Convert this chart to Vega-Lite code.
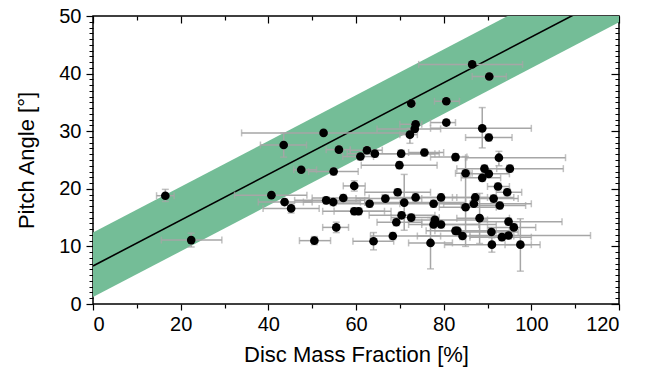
{
  "$schema": "https://vega.github.io/schema/vega-lite/v6.json",
  "width": 526,
  "height": 288,
  "autosize": "none",
  "padding": {"left": 93, "top": 16, "right": 40, "bottom": 66},
  "background": "white",
  "config": {
    "view": {"stroke": "black", "strokeWidth": 1.5},
    "axis": {"domain": false, "grid": false, "tickColor": "black", "tickWidth": 1.2, "labelFont": "Liberation Sans", "titleFont": "Liberation Sans", "labelColor": "black", "titleColor": "black", "titleFontWeight": "normal"}
  },
  "datasets": {
    "fit": [
      {"x": 0, "yfit": 6.6, "lo": 1.2, "hi": 12.4},
      {"x": 120, "yfit": 54.3, "lo": 48.9, "hi": 60.1}
    ],
    "pts": [
      {"x":16.5,"y":18.8,"xl":14.5,"xh":18.5,"yl":17.8,"yh":19.9},
      {"x":22.4,"y":11.1,"xl":15.6,"xh":29.4,"yl":9.9,"yh":12.3},
      {"x":40.7,"y":18.9,"xl":32.3,"xh":48.8,"yl":18.4,"yh":19.4},
      {"x":43.5,"y":27.6,"xl":38.2,"xh":48.7,"yl":25.5,"yh":29.7},
      {"x":43.7,"y":17.7,"xl":37.7,"xh":50.0,"yl":17.2,"yh":18.2},
      {"x":45.2,"y":16.6,"xl":38.8,"xh":51.6,"yl":15.8,"yh":17.4},
      {"x":47.5,"y":23.3,"xl":45.8,"xh":51.0,"yl":22.8,"yh":23.8},
      {"x":52.6,"y":29.7,"xl":33.9,"xh":72.3,"yl":29.2,"yh":30.2},
      {"x":50.5,"y":11.0,"xl":47.1,"xh":54.2,"yl":10.3,"yh":11.7},
      {"x":53.2,"y":18.0,"xl":46.0,"xh":62.0,"yl":17.4,"yh":18.6},
      {"x":54.8,"y":17.7,"xl":48.0,"xh":61.0,"yl":17.1,"yh":18.3},
      {"x":54.9,"y":23.0,"xl":49.2,"xh":60.5,"yl":22.4,"yh":23.6},
      {"x":55.5,"y":13.3,"xl":52.4,"xh":58.3,"yl":12.4,"yh":14.2},
      {"x":56.1,"y":26.8,"xl":53.2,"xh":58.7,"yl":26.2,"yh":27.4},
      {"x":57.1,"y":18.4,"xl":50.0,"xh":63.0,"yl":17.8,"yh":19.0},
      {"x":59.6,"y":20.5,"xl":57.1,"xh":62.1,"yl":19.6,"yh":21.4},
      {"x":59.6,"y":16.1,"xl":52.4,"xh":66.5,"yl":15.5,"yh":16.7},
      {"x":60.6,"y":16.1,"xl":55.0,"xh":68.0,"yl":15.5,"yh":16.7},
      {"x":61.0,"y":25.6,"xl":57.0,"xh":64.0,"yl":25.0,"yh":26.2},
      {"x":62.5,"y":26.7,"xl":58.7,"xh":66.0,"yl":26.1,"yh":27.3},
      {"x":64.3,"y":26.1,"xl":58.0,"xh":79.0,"yl":25.5,"yh":26.7},
      {"x":63.1,"y":17.4,"xl":55.0,"xh":71.0,"yl":16.8,"yh":18.0},
      {"x":64.0,"y":10.9,"xl":59.3,"xh":68.6,"yl":9.4,"yh":12.4},
      {"x":66.7,"y":18.3,"xl":60.0,"xh":75.0,"yl":17.7,"yh":18.9},
      {"x":68.4,"y":11.8,"xl":63.3,"xh":79.3,"yl":11.2,"yh":12.4},
      {"x":69.2,"y":14.2,"xl":64.8,"xh":75.0,"yl":13.6,"yh":14.8},
      {"x":69.5,"y":19.4,"xl":62.0,"xh":77.0,"yl":18.8,"yh":20.0},
      {"x":69.9,"y":24.1,"xl":61.2,"xh":78.5,"yl":23.5,"yh":24.7},
      {"x":70.3,"y":26.1,"xl":62.0,"xh":78.0,"yl":25.5,"yh":26.7},
      {"x":70.4,"y":15.4,"xl":63.0,"xh":78.0,"yl":14.8,"yh":16.0},
      {"x":71.0,"y":17.6,"xl":62.0,"xh":85.0,"yl":12.8,"yh":22.5},
      {"x":72.3,"y":29.4,"xl":70.0,"xh":74.0,"yl":27.9,"yh":30.5},
      {"x":72.6,"y":34.8,"xl":72.0,"xh":73.5,"yl":34.3,"yh":35.3},
      {"x":72.6,"y":15.0,"xl":68.0,"xh":79.0,"yl":14.4,"yh":15.6},
      {"x":73.4,"y":30.4,"xl":64.8,"xh":79.3,"yl":29.8,"yh":31.0},
      {"x":73.6,"y":31.2,"xl":70.0,"xh":75.0,"yl":30.6,"yh":31.8},
      {"x":73.6,"y":18.5,"xl":66.0,"xh":83.0,"yl":17.9,"yh":19.1},
      {"x":75.6,"y":26.3,"xl":72.0,"xh":80.0,"yl":25.7,"yh":26.9},
      {"x":77.0,"y":10.6,"xl":72.0,"xh":82.0,"yl":6.1,"yh":15.0},
      {"x":77.7,"y":17.4,"xl":70.0,"xh":86.0,"yl":16.8,"yh":18.0},
      {"x":77.7,"y":13.8,"xl":72.0,"xh":88.0,"yl":13.2,"yh":14.4},
      {"x":78.0,"y":14.6,"xl":72.0,"xh":90.0,"yl":14.0,"yh":15.2},
      {"x":79.4,"y":18.5,"xl":74.0,"xh":90.0,"yl":17.9,"yh":19.1},
      {"x":79.4,"y":13.8,"xl":75.0,"xh":92.0,"yl":13.2,"yh":14.4},
      {"x":80.6,"y":35.2,"xl":77.9,"xh":83.6,"yl":34.6,"yh":35.8},
      {"x":80.6,"y":31.5,"xl":77.0,"xh":82.7,"yl":31.0,"yh":32.0},
      {"x":82.7,"y":25.5,"xl":77.0,"xh":85.3,"yl":24.9,"yh":26.1},
      {"x":82.7,"y":12.7,"xl":76.0,"xh":95.0,"yl":12.1,"yh":13.3},
      {"x":83.1,"y":12.7,"xl":78.0,"xh":92.0,"yl":12.1,"yh":13.3},
      {"x":84.3,"y":11.8,"xl":74.0,"xh":96.0,"yl":11.2,"yh":12.4},
      {"x":85.0,"y":22.7,"xl":82.7,"xh":86.5,"yl":22.1,"yh":23.3},
      {"x":85.0,"y":16.8,"xl":79.0,"xh":92.0,"yl":10.0,"yh":25.6},
      {"x":86.5,"y":41.6,"xl":74.3,"xh":98.0,"yl":41.0,"yh":42.2},
      {"x":86.9,"y":17.4,"xl":80.0,"xh":100.0,"yl":16.8,"yh":18.0},
      {"x":87.2,"y":18.5,"xl":82.0,"xh":96.0,"yl":17.9,"yh":19.1},
      {"x":88.2,"y":14.9,"xl":83.0,"xh":95.0,"yl":10.5,"yh":19.2},
      {"x":88.8,"y":21.9,"xl":84.0,"xh":93.0,"yl":21.3,"yh":22.5},
      {"x":88.8,"y":30.5,"xl":77.0,"xh":100.0,"yl":27.1,"yh":34.1},
      {"x":89.3,"y":23.5,"xl":83.0,"xh":95.0,"yl":22.9,"yh":24.1},
      {"x":90.3,"y":22.6,"xl":86.0,"xh":95.0,"yl":22.0,"yh":23.2},
      {"x":90.3,"y":28.9,"xl":85.0,"xh":95.6,"yl":28.3,"yh":29.5},
      {"x":90.4,"y":39.5,"xl":86.5,"xh":94.3,"yl":38.9,"yh":40.1},
      {"x":90.9,"y":12.5,"xl":84.0,"xh":97.0,"yl":11.9,"yh":13.1},
      {"x":91.0,"y":10.3,"xl":80.2,"xh":102.0,"yl":9.0,"yh":11.5},
      {"x":91.4,"y":18.3,"xl":88.0,"xh":97.0,"yl":17.7,"yh":18.9},
      {"x":92.4,"y":20.4,"xl":90.0,"xh":95.0,"yl":19.8,"yh":21.0},
      {"x":92.6,"y":25.4,"xl":85.0,"xh":107.8,"yl":24.0,"yh":26.5},
      {"x":92.8,"y":17.1,"xl":84.0,"xh":98.7,"yl":16.5,"yh":17.7},
      {"x":93.3,"y":11.6,"xl":86.0,"xh":100.0,"yl":11.0,"yh":12.2},
      {"x":94.5,"y":19.4,"xl":92.0,"xh":97.8,"yl":18.8,"yh":20.0},
      {"x":94.8,"y":14.3,"xl":88.0,"xh":107.0,"yl":13.7,"yh":14.9},
      {"x":94.8,"y":11.9,"xl":86.0,"xh":113.5,"yl":11.3,"yh":12.5},
      {"x":95.1,"y":23.5,"xl":92.1,"xh":107.3,"yl":22.9,"yh":24.1},
      {"x":96.0,"y":13.3,"xl":90.0,"xh":101.0,"yl":12.7,"yh":13.9},
      {"x":97.5,"y":10.3,"xl":94.0,"xh":100.0,"yl":5.7,"yh":14.8}
    ]
  },
  "resolve": {"axis": {"x": "independent", "y": "independent"}},
  "layer": [
    {
      "data": {"name": "fit"},
      "mark": {"type": "area", "color": "#74bd97", "clip": true},
      "encoding": {
        "x": {"field": "x", "type": "quantitative", "scale": {"domain": [0, 120], "nice": false},
              "axis": {"orient": "bottom", "values": [0, 20, 40, 60, 80, 100, 120], "tickSize": 6, "labelFontSize": 20, "labelPadding": 4, "title": "Disc Mass Fraction [%]", "titleFontSize": 22, "titlePadding": 10}},
        "y": {"field": "lo", "type": "quantitative", "scale": {"domain": [0, 50], "nice": false},
              "axis": {"orient": "left", "values": [0, 10, 20, 30, 40, 50], "tickSize": 7, "labelFontSize": 20, "labelPadding": 5, "title": "Pitch Angle [°]", "titleFontSize": 22, "titlePadding": 20}},
        "y2": {"field": "hi"}
      }
    },
    {
      "data": {"name": "fit"},
      "mark": {"type": "line", "color": "black", "strokeWidth": 1.6, "clip": true},
      "encoding": {
        "x": {"field": "x", "type": "quantitative", "axis": {"orient": "top", "values": [0, 20, 40, 60, 80, 100, 120], "tickSize": -7, "labels": false, "title": null}},
        "y": {"field": "yfit", "type": "quantitative", "axis": {"orient": "right", "values": [0, 10, 20, 30, 40, 50], "tickSize": -8, "labels": false, "title": null}}
      }
    },
    {
      "data": {"name": "pts"},
      "mark": {"type": "errorbar", "ticks": {"size": 7}, "color": "#a6a6a6", "thickness": 1.5},
      "encoding": {
        "x": {"field": "xl", "type": "quantitative", "axis": null},
        "x2": {"field": "xh"},
        "y": {"field": "y", "type": "quantitative", "axis": null}
      }
    },
    {
      "data": {"name": "pts"},
      "mark": {"type": "errorbar", "ticks": {"size": 7}, "color": "#a6a6a6", "thickness": 1.5},
      "encoding": {
        "y": {"field": "yl", "type": "quantitative", "axis": null},
        "y2": {"field": "yh"},
        "x": {"field": "x", "type": "quantitative", "axis": null}
      }
    },
    {
      "data": {"name": "pts"},
      "mark": {"type": "point", "filled": true, "color": "black", "opacity": 1, "size": 75},
      "encoding": {
        "x": {"field": "x", "type": "quantitative", "axis": {"orient": "bottom", "values": [10, 30, 50, 70, 90, 110], "tickSize": 4, "labels": false, "title": null}},
        "y": {"field": "y", "type": "quantitative", "axis": {"orient": "left", "values": [0,1,2,3,4,5,6,7,8,9,11,12,13,14,15,16,17,18,19,21,22,23,24,25,26,27,28,29,31,32,33,34,35,36,37,38,39,41,42,43,44,45,46,47,48,49], "tickSize": 4, "tickWidth": 1, "labels": false, "title": null}}
      }
    },
    {
      "data": {"name": "pts"},
      "mark": {"type": "point", "opacity": 0},
      "encoding": {
        "x": {"field": "x", "type": "quantitative", "axis": {"orient": "top", "values": [10, 30, 50, 70, 90, 110], "tickSize": -4, "labels": false, "title": null}},
        "y": {"field": "y", "type": "quantitative", "axis": {"orient": "right", "values": [1,2,3,4,5,6,7,8,9,11,12,13,14,15,16,17,18,19,21,22,23,24,25,26,27,28,29,31,32,33,34,35,36,37,38,39,41,42,43,44,45,46,47,48,49], "tickSize": -4, "tickWidth": 1, "labels": false, "title": null}}
      }
    }
  ]
}
